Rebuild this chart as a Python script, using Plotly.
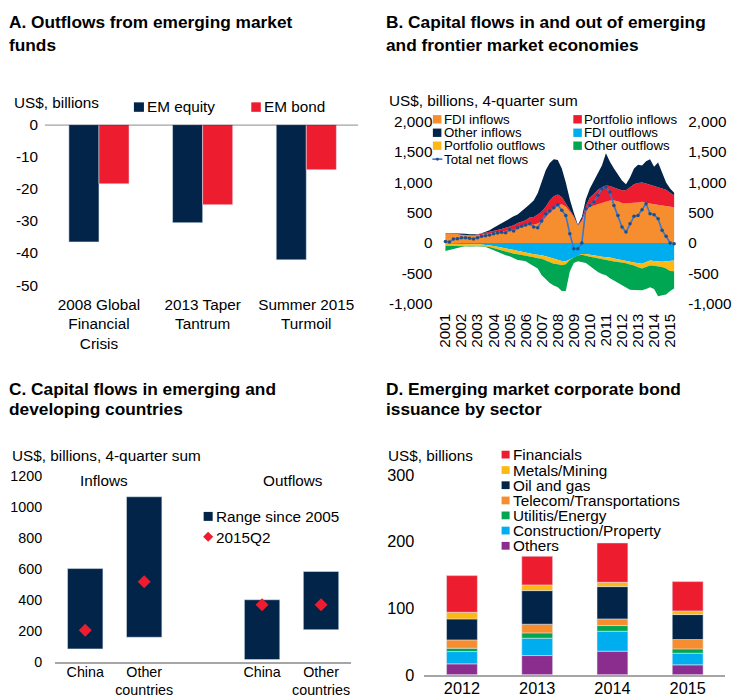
import numpy as np
import plotly.graph_objects as go

# ---------------- data ----------------
# A. Outflows from emerging market funds (US$ billions)
events = ["2008 Global<br>Financial<br>Crisis", "2013 Taper<br>Tantrum", "Summer 2015<br>Turmoil"]
em_equity = [-36.5, -30.5, -42.1]
em_bond = [-18.4, -24.9, -14.0]
a_tickvals = [0, -10, -20, -30, -40, -50]
a_ticktext = ["0", "-10", "-20", "-30", "-40", "-50"]

# B. Capital flows, 4-quarter sums, 2001Q1-2015Q2 (US$ billions)
b_years = list(range(2001, 2016))
quarters = [f"{y}Q{q}" for y in b_years for q in range(1, 5)][:58]
fdi_inflows = [160, 160, 155, 150, 130, 125, 120, 120, 125, 135,
               140, 150, 160, 175, 190, 200, 210, 225, 250, 265,
               275, 300, 300, 320, 360, 420, 500, 560, 620, 640,
               600, 520, 430, 290, 360, 520, 600, 620, 640, 660,
               690, 700, 700, 690, 660, 650, 660, 660, 670, 680,
               660, 650, 640, 630, 620, 620, 600, 590]
portfolio_inflows = [0, 0, 0, 0, 5, 5, 5, 10, 15, 20,
                     25, 30, 30, 35, 40, 50, 60, 70, 80, 90,
                     100, 120, 130, 150, 160, 180, 200, 210, 180, 120,
                     60, 20, 10, 0, 30, 90, 150, 190, 240, 260,
                     260, 240, 210, 200, 210, 220, 260, 310, 320, 320,
                     320, 310, 290, 290, 280, 260, 230, 200]
other_inflows = [5, 5, 5, 10, 25, 25, 20, 10, 5, 5,
                 20, 30, 60, 80, 100, 120, 140, 145, 140, 165,
                 205, 220, 270, 350, 480, 600, 620, 610, 570, 470,
                 340, 180, 60, 10, 40, 110, 150, 210, 270, 360,
                 530, 400, 320, 230, 160, 100, 160, 260, 300, 280,
                 370, 420, 330, 410, 250, 120, 70, 40]
fdi_outflows = [-10, -10, -10, -12, -14, -15, -18, -20, -22, -25,
                -30, -40, -50, -60, -75, -90, -100, -115, -130, -145,
                -160, -170, -185, -195, -200, -220, -240, -265, -285, -295,
                -300, -270, -230, -200, -180, -180, -195, -205, -215, -225,
                -230, -240, -255, -270, -285, -295, -310, -325, -335, -340,
                -320, -290, -295, -305, -310, -300, -290, -290]
portfolio_outflows = [-34, -38, -42, -43, -41, -37, -32, -30, -30, -30,
                      -28, -26, -35, -45, -50, -55, -60, -60, -55, -50,
                      -45, -50, -50, -55, -60, -70, -80, -75, -65, -70,
                      -50, -10, -10, -5, -15, -25, -30, -35, -40, -45,
                      -55, -55, -50, -45, -35, -40, -45, -45, -65, -80,
                      -75, -80, -80, -80, -85, -120, -170, -175]
other_outflows = [-88, -67, -43, -20, -10, -6, -5, -5, -6, -7,
                  -8, -24, -35, -45, -50, -55, -60, -75, -95, -95,
                  -95, -120, -145, -170, -270, -310, -340, -360, -380, -425,
                  -440, -190, -90, -95, -125, -125, -155, -190, -225, -240,
                  -245, -285, -315, -335, -370, -405, -415, -405, -380, -360,
                  -365, -360, -385, -495, -465, -430, -330, -285]
total_net_flows = [27, 16, 66, 71, 88, 88, 77, 66, 88, 110,
                   121, 132, 154, 165, 176, 170, 220, 198, 253, 275,
                   297, 319, 264, 253, 363, 484, 528, 583, 630, 539,
                   456, 154, -94, -94, 0, 566, 621, 676, 786, 896,
                   924, 841, 621, 456, 264, 181, 319, 440, 456, 550,
                   649, 484, 467, 401, 209, 110, 0, -10]
b_tickvals = [-1000, -500, 0, 500, 1000, 1500, 2000]
b_ticktext = ["-1,000", "-500", "0", "500", "1,000", "1,500", "2,000"]

# C. Capital flows in emerging and developing countries (US$ billions)
c_groups = ["Inflows", "Inflows", "Outflows", "Outflows"]
c_names = ["China", "Other<br>countries", "China", "Other<br>countries"]
c_low = [82, 157, 13, 206]
c_high = [600, 1063, 399, 581]
c_2015q2 = [202, 515, 367, 367]
c_tickvals = [0, 200, 400, 600, 800, 1000, 1200]

# D. EM corporate bond issuance by sector (US$ billions)
d_years = ["2012", "2013", "2014", "2015"]
d_sectors = ["Others", "Construction/Property", "Utilitis/Energy",
             "Telecom/Transportations", "Oil and gas", "Metals/Mining", "Financials"]
others = [16.5, 29, 35.5, 15]
construction_property = [18.5, 26, 30, 17.5]
utilities_energy = [5, 8, 8.5, 6.5]
telecom_transport = [12.5, 13, 10, 14]
oil_and_gas = [31.5, 50.5, 48.5, 37.5]
metals_mining = [10, 8.5, 6.5, 5.5]
financials = [55, 43, 59, 44]
d_tickvals = [0, 100, 200, 300]

# ---------------- style ----------------
NAVY = "#032449"
RED = "#ED1C2E"
ORANGE = "#F68D2E"
GOLD = "#FDB813"
SKY = "#00AEEF"
GREEN = "#00A651"
PURPLE = "#8B2D8E"
LINE_BLUE = "#3478CF"
FONT = "Liberation Sans, Arial, Helvetica, sans-serif"

W, H = 733, 700
# screen placement of the figure canvas: offset and scale per direction
OX, SX, OY, SY = 5.0, 0.99, 7.82, 0.9777


def px(x):
    """screen x pixel -> paper fraction"""
    return (x - OX) / SX / W


def py(y):
    """screen y pixel -> paper fraction"""
    return 1 - (y - OY) / SY / H


def fs(size):
    """font size, compensated for the canvas scale"""
    return round(size * 1.02, 1)


fig = go.Figure()

# ---- A: grouped bars
fig.add_trace(go.Bar(x=events, y=em_equity, name="EM equity", marker_color=NAVY,
                     xaxis="x", yaxis="y", offsetgroup="eq"))
fig.add_trace(go.Bar(x=events, y=em_bond, name="EM bond", marker_color=RED,
                     xaxis="x", yaxis="y", offsetgroup="bd"))

# ---- B: stacked areas + net line
for name, vals, col in [("FDI inflows", fdi_inflows, ORANGE),
                        ("Portfolio inflows", portfolio_inflows, RED),
                        ("Other inflows", other_inflows, NAVY)]:
    fig.add_trace(go.Scatter(x=quarters, y=vals, name=name, stackgroup="in",
                             mode="lines", line=dict(width=0, color=col),
                             fillcolor=col, xaxis="x2", yaxis="y2"))
for name, vals, col in [("FDI outflows", fdi_outflows, SKY),
                        ("Portfolio outflows", portfolio_outflows, GOLD),
                        ("Other outflows", other_outflows, GREEN)]:
    fig.add_trace(go.Scatter(x=quarters, y=vals, name=name, stackgroup="out",
                             mode="lines", line=dict(width=0, color=col),
                             fillcolor=col, xaxis="x2", yaxis="y2"))
fig.add_trace(go.Scatter(x=quarters, y=total_net_flows, name="Total net flows",
                         mode="lines+markers", line=dict(color=LINE_BLUE, width=1.6),
                         marker=dict(size=3.5, color="#1D4F8F"),
                         xaxis="x2", yaxis="y5"))

# ---- C: floating range bars + latest value
c_slots = [i + (1 if g == "Outflows" else 0) for i, g in enumerate(c_groups)]
c_span = (np.array(c_high) - np.array(c_low)).tolist()
fig.add_trace(go.Bar(x=c_slots, y=c_span, base=c_low, width=0.6, marker_color=NAVY,
                     name="Range since 2005", xaxis="x3", yaxis="y3"))
fig.add_trace(go.Scatter(x=c_slots, y=c_2015q2, mode="markers", name="2015Q2",
                         marker=dict(symbol="diamond", size=10, color=RED),
                         xaxis="x3", yaxis="y3"))

# ---- D: stacked bars (bases accumulate from the bottom sector up)
d_values = [others, construction_property, utilities_energy, telecom_transport,
            oil_and_gas, metals_mining, financials]
d_colors = [PURPLE, SKY, GREEN, ORANGE, NAVY, GOLD, RED]
cum = np.zeros(len(d_years))
for name, vals, col in zip(d_sectors, d_values, d_colors):
    fig.add_trace(go.Bar(x=d_years, y=vals, base=cum.tolist(), name=name,
                         marker_color=col, width=0.41, offsetgroup="d",
                         xaxis="x4", yaxis="y4"))
    cum = cum + np.array(vals)


def tickfont(size):
    return dict(family=FONT, size=fs(size), color="#000")


axis_common = dict(showgrid=False, zeroline=False, ticks="")

layout = dict(
    width=W, height=H, autosize=False,
    margin=dict(l=0, r=0, t=0, b=0),
    paper_bgcolor="white", plot_bgcolor="white",
    showlegend=False, barmode="group", bargap=0.42, bargroupgap=0,
    font=dict(family=FONT, size=fs(15), color="#000"),
    # A
    xaxis=dict(domain=[px(47), px(357)], anchor="y", type="category",
               range=[-0.5, 2.5], showline=False, ticklabelstandoff=8,
               tickfont=tickfont(15), **axis_common),
    yaxis=dict(domain=[py(285), py(124)], anchor="x", range=[-50, 0],
               tickvals=a_tickvals, ticktext=a_ticktext, showline=False,
               ticklabelstandoff=8, tickfont=tickfont(15), **axis_common),
    # B
    xaxis2=dict(domain=[px(440), px(676)], anchor="y2", type="category",
                range=[-1, 58], tickvals=[f"{y}Q1" for y in b_years],
                ticktext=[str(y) for y in b_years], tickangle=-90,
                showline=False, ticklabelstandoff=6, tickfont=tickfont(15), **axis_common),
    yaxis2=dict(domain=[py(303.5), py(121)], anchor="x2", range=[-1000, 2000],
                tickvals=b_tickvals, ticktext=b_ticktext, showline=False,
                ticklabelstandoff=8, tickfont=tickfont(15), **axis_common),
    yaxis5=dict(overlaying="y2", anchor="x2", side="right", range=[-1000, 2000],
                tickvals=b_tickvals, ticktext=b_ticktext, showline=False,
                ticklabelstandoff=9, tickfont=tickfont(15), **axis_common),
    # C
    xaxis3=dict(domain=[px(55), px(350)], anchor="y3", range=[-0.51, 4.51],
                tickvals=c_slots, ticktext=c_names, showline=True,
                linecolor="#A6A6A6", linewidth=2, ticklabelstandoff=-4,
                tickfont=tickfont(14), **axis_common),
    yaxis3=dict(domain=[py(662.7), py(476)], anchor="x3", range=[0, 1200],
                tickvals=c_tickvals, showline=False, ticklabelstandoff=12,
                tickfont=tickfont(14), **axis_common),
    # D
    xaxis4=dict(domain=[px(423), px(723)], anchor="y4", type="category",
                range=[-0.5, 3.5], showline=True, linecolor="#A6A6A6", linewidth=1.5,
                ticklabelstandoff=-2, tickfont=tickfont(16), **axis_common),
    yaxis4=dict(domain=[py(676), py(475.5)], anchor="x4", range=[0, 300],
                tickvals=d_tickvals, showline=False, ticklabelstandoff=9,
                tickfont=tickfont(16), **axis_common),
)
fig.update_layout(**layout)

annotations = []
shapes = []


def text(x, y, s, size=15, xanchor="left", bold=False):
    annotations.append(dict(
        x=px(x), y=py(y), xref="paper", yref="paper", text=f"<b>{s}</b>" if bold else s,
        showarrow=False, xanchor=xanchor, yanchor="middle",
        font=dict(family=FONT, size=fs(size), color="#000")))


def swatch(x0, y0, x1, y1, color):
    shapes.append(dict(type="rect", xref="paper", yref="paper",
                       x0=px(x0), x1=px(x1), y0=py(y1), y1=py(y0),
                       fillcolor=color, line=dict(width=0)))


# panel titles
text(7, 21, "A. Outflows from emerging market", 17, bold=True)
text(7, 44, "funds", 17, bold=True)
text(383, 21, "B. Capital flows in and out of emerging", 17, bold=True)
text(383, 44, "and frontier market economies", 17, bold=True)
text(7, 389, "C. Capital flows in emerging and", 17, bold=True)
text(7, 409, "developing countries", 17, bold=True)
text(383, 389, "D. Emerging market corporate bond", 17, bold=True)
text(383, 409, "issuance by sector", 17, bold=True)

# A unit + legend
text(12, 102, "US$, billions", 15)
swatch(133.5, 101.5, 143.5, 111, NAVY)
text(145, 106, "EM equity", 15)
swatch(250.5, 101.5, 260, 111, RED)
text(261.5, 106, "EM bond", 15)

# B unit + legend (two columns)
text(386, 100, "US$, billions, 4-quarter sum", 15)
b_leg_left = [("FDI inflows", ORANGE), ("Other inflows", NAVY), ("Portfolio outflows", GOLD)]
b_leg_right = [("Portfolio inflows", RED), ("FDI outflows", SKY), ("Other outflows", GREEN)]
rows = [118.5, 132, 145, 158.5]
for (lab, col), yy in zip(b_leg_left, rows):
    swatch(431.5, yy - 4.2, 440, yy + 4.2, col)
    text(440.5, yy, lab, 13)
for (lab, col), yy in zip(b_leg_right, rows):
    swatch(571.5, yy - 4.2, 580, yy + 4.2, col)
    text(580.5, yy, lab, 13)
shapes.append(dict(type="line", xref="paper", yref="paper",
                   x0=px(431), x1=px(441), y0=py(rows[3]), y1=py(rows[3]),
                   line=dict(color=LINE_BLUE, width=1.6)))
shapes.append(dict(type="circle", xref="paper", yref="paper",
                   x0=px(434.5), x1=px(437.5), y0=py(rows[3] + 1.5), y1=py(rows[3] - 1.5),
                   fillcolor="#1D4F8F", line=dict(width=0)))
text(440.5, rows[3], "Total net flows", 13)

# C unit, group labels, legend
text(10, 456, "US$, billions, 4-quarter sum", 15)
text(104, 481, "Inflows", 15, xanchor="center")
text(292, 481, "Outflows", 15, xanchor="center")
swatch(203, 512.5, 212, 521.5, NAVY)
text(213.5, 517, "Range since 2005", 15)
cx, cy, r = 207.5, 537.5, 5
shapes.append(dict(type="path", xref="paper", yref="paper",
                   path=f"M {px(cx)},{py(cy - r)} L {px(cx + r)},{py(cy)} "
                        f"L {px(cx)},{py(cy + r)} L {px(cx - r)},{py(cy)} Z",
                   fillcolor=RED, line=dict(width=0)))
text(213.5, 538, "2015Q2", 15)

# D unit + legend
text(385, 456, "US$, billions", 15)
d_rows = [455, 470.5, 485.7, 501, 516, 531.2, 546.5]
for (lab, col), yy in zip(list(zip(d_sectors, d_colors))[::-1], d_rows):
    swatch(500, yy - 3.9, 508, yy + 3.9, col)
    text(509.5, yy, lab, 15)

# A baseline at zero
shapes.append(dict(type="line", xref="x domain", yref="y", x0=-0.007, x1=1, y0=0, y1=0,
                   line=dict(color="#000", width=1)))

fig.update_layout(annotations=annotations, shapes=shapes)
fig.write_html("out.html")
